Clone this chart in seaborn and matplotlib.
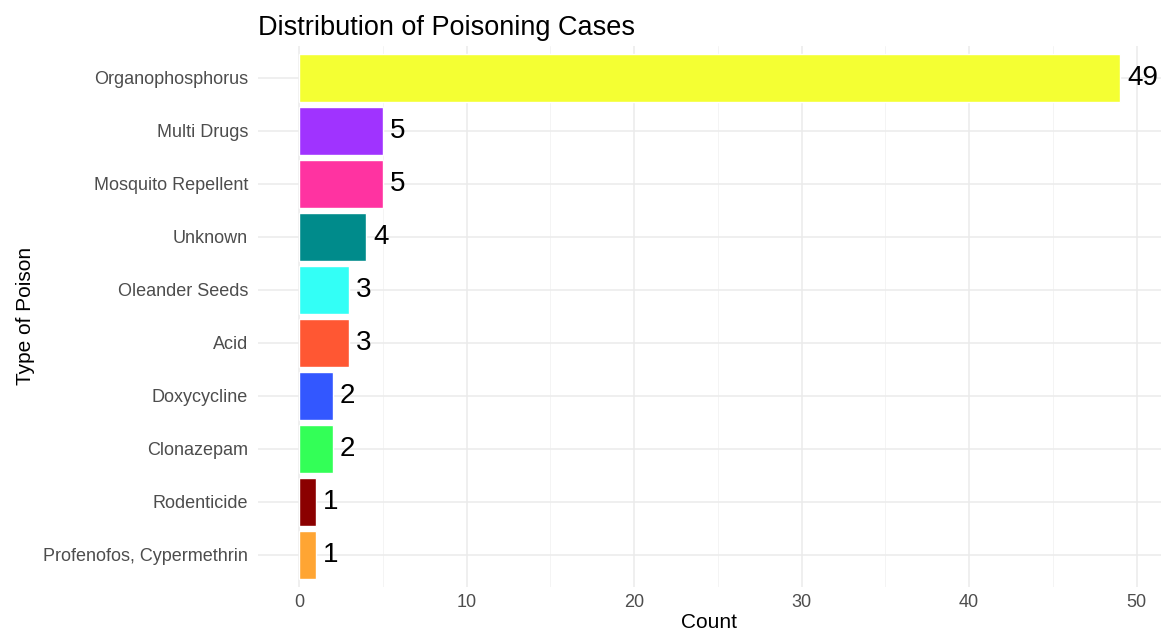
import matplotlib
matplotlib.use("Agg")
import matplotlib.pyplot as plt
import seaborn as sns
import pandas as pd

# Datos
poisons = ["Organophosphorus", "Multi Drugs", "Mosquito Repellent", "Unknown",
           "Oleander Seeds", "Acid", "Doxycycline", "Clonazepam", "Rodenticide",
           "Profenofos, Cypermethrin"]
counts = [49, 5, 5, 4, 3, 3, 2, 2, 1, 1]
colors = ["#F4FF33", "#A033FF", "#FF33A1", "#008B8B", "#33FFF6",
          "#FF5733", "#3357FF", "#33FF57", "#8B0000", "#FFA533"]
x_ticks = [0, 10, 20, 30, 40, 50]

df = pd.DataFrame({"Poison": poisons, "Count": counts})

sns.set_theme(style="whitegrid")
plt.rcParams["font.family"] = ["Liberation Sans", "DejaVu Sans"]

fig = plt.figure(figsize=(11.63, 6.35), dpi=100)
ax = fig.add_axes([0.2218, 0.076, 0.7765, 0.8516])

sns.barplot(data=df, x="Count", y="Poison", hue="Poison", order=poisons,
            palette=dict(zip(poisons, colors)), width=0.9, legend=False,
            saturation=1, ax=ax)

for c in ax.containers:
    ax.bar_label(c, padding=5, fontsize=20, color="black")

ax.set_xlim(-2.45, 51.45)
ax.set_ylim(9.6, -0.6)
ax.set_xticks(x_ticks)
ax.set_xticks([5, 15, 25, 35, 45], minor=True)
ax.grid(True, which="major", color="#EBEBEB", linewidth=1.1)
ax.grid(True, which="minor", axis="x", color="#F2F2F2", linewidth=0.6)
ax.set_axisbelow(True)
for s in ax.spines.values():
    s.set_visible(False)
ax.tick_params(axis="both", which="both", length=0, labelcolor="#4D4D4D", labelsize=13)
ax.tick_params(axis="y", pad=7)
ax.tick_params(axis="x", pad=5)

ax.set_xlabel("Count", fontsize=15, color="black", labelpad=2)
ax.set_ylabel("Type of Poison", fontsize=15, color="black", labelpad=6)
ax.set_title("Distribution of Poisoning Cases", loc="left", fontsize=19.5,
             color="black", pad=8, x=0.0)

fig.savefig("out.png", dpi=100, facecolor="white")
